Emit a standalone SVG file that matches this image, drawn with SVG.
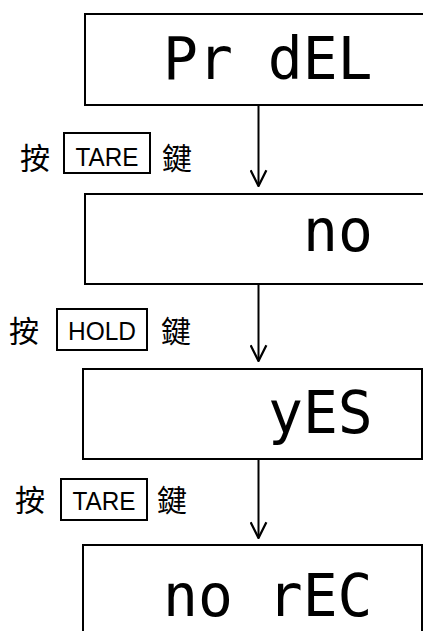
<svg xmlns="http://www.w3.org/2000/svg" width="423" height="631" viewBox="0 0 423 631">
<style>
.box{fill:#fff;stroke:#000;stroke-width:2}
.key{fill:none;stroke:#000;stroke-width:2}
.seg{font-family:"DejaVu Sans Mono","Liberation Mono",monospace;font-size:58px;fill:#000}
.cjk{font-family:"Noto Sans CJK TC","Noto Sans CJK SC",sans-serif;font-size:30px;fill:#000;text-anchor:middle}
.kt{font-family:"Liberation Sans",Arial,sans-serif;font-size:26px;fill:#000;text-anchor:middle}
.conn{stroke:#000;stroke-width:2;fill:none}
</style>
<defs>
<marker id="arr" markerWidth="18" markerHeight="18" refX="15" refY="8" orient="auto" markerUnits="userSpaceOnUse" viewBox="0 0 16 16">
<path d="M1,1 L15,8 L1,15" fill="none" stroke="#000" stroke-width="2"/>
</marker>
</defs>
<rect width="423" height="631" fill="#fff"/>
<g id="node1">
<rect class="box" x="85" y="14" width="345" height="91"/>
<text class="seg" x="163" y="79" xml:space="preserve">Pr dEL</text>
</g>
<g id="node2">
<rect class="box" x="85" y="194" width="345" height="90"/>
<text class="seg" x="303" y="251">no</text>
</g>
<g id="node3">
<rect class="box" x="83" y="369" width="339" height="90"/>
<text class="seg" x="268" y="433">yES</text>
</g>
<g id="node4">
<rect class="box" x="83" y="545" width="339" height="100"/>
<text class="seg" x="163" y="616" xml:space="preserve">no rEC</text>
</g>
<g id="connectors">
<line class="conn" x1="258.5" y1="106" x2="258.5" y2="186" marker-end="url(#arr)"/>
<line class="conn" x1="258.5" y1="285" x2="258.5" y2="361" marker-end="url(#arr)"/>
<line class="conn" x1="258.5" y1="460" x2="258.5" y2="538" marker-end="url(#arr)"/>
</g>
<g id="label1">
<text class="cjk" x="35" y="169">按</text>
<rect class="key" x="64" y="133" width="86" height="40"/>
<text class="kt" x="107" y="166" textLength="63" lengthAdjust="spacingAndGlyphs">TARE</text>
<text class="cjk" x="177" y="169">鍵</text>
</g>
<g id="label2">
<text class="cjk" x="24" y="342">按</text>
<rect class="key" x="57" y="309" width="90" height="41"/>
<text class="kt" x="102" y="340" textLength="68" lengthAdjust="spacingAndGlyphs">HOLD</text>
<text class="cjk" x="176" y="342">鍵</text>
</g>
<g id="label3">
<text class="cjk" x="30" y="511">按</text>
<rect class="key" x="61" y="479" width="86" height="41"/>
<text class="kt" x="104" y="510" textLength="63" lengthAdjust="spacingAndGlyphs">TARE</text>
<text class="cjk" x="172" y="511">鍵</text>
</g>
</svg>
